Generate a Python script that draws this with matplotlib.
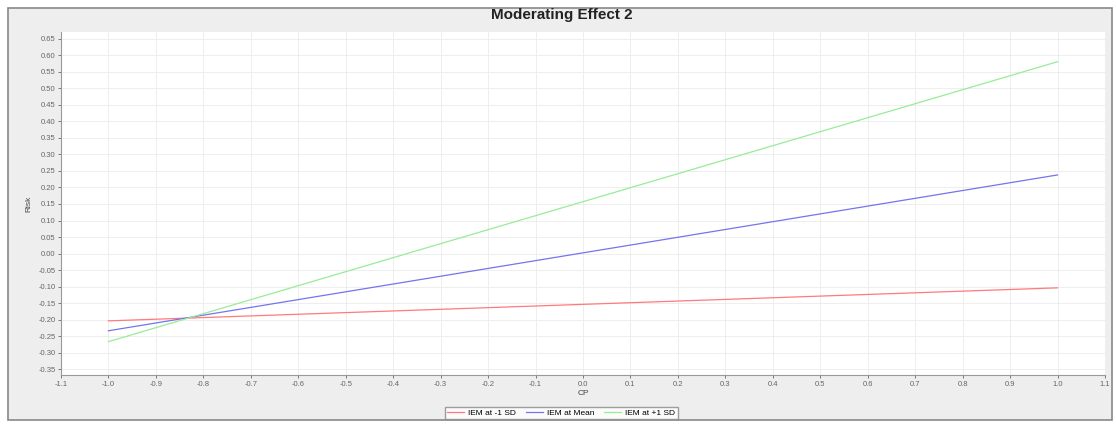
import matplotlib.pyplot as plt
from matplotlib.patches import Rectangle
import numpy as np

# values
cp = [-1.0, 1.0]
risk_low = [-0.204, -0.104]    # IEM at -1 SD
risk_mean = [-0.234, 0.238]    # IEM at Mean
risk_high = [-0.267, 0.581]    # IEM at +1 SD

series_labels = ["IEM at -1 SD", "IEM at Mean", "IEM at +1 SD"]
colors = ["#ff7a7a", "#7474ee", "#98ec98"]

x_ticks = np.round(np.arange(-1.1, 1.11, 0.1), 1) + 0.0
y_ticks = np.round(np.arange(-0.35, 0.651, 0.05), 2) + 0.0

plt.rcParams["font.family"] = ["Liberation Sans", "DejaVu Sans"]

fig = plt.figure(figsize=(11.16, 4.25), dpi=100)
fig.patch.set_facecolor("white")

# chart panel background with border
W, H = 1116, 425
fig.patches.append(
    Rectangle((8 / W, 1 - 420 / H), 1104 / W, 412 / H, transform=fig.transFigure,
              facecolor="#eeeeee", edgecolor="#888888", linewidth=1.2, zorder=-10)
)

ax = fig.add_axes([61 / W, 1 - 375 / H, 1044 / W, 343 / H])
ax.set_zorder(1)
ax.set_facecolor("white")

for vals, lab, c in zip([risk_low, risk_mean, risk_high], series_labels, colors):
    ax.plot(cp, vals, color=c, linewidth=0.9, label=lab)

ax.set_xlim(-1.1, 1.1)
ax.set_ylim(-0.368, 0.671)
ax.set_xticks(x_ticks)
ax.set_xticklabels([f"{abs(v) if abs(v) < 1e-9 else v:.1f}" for v in x_ticks])
ax.set_yticks(y_ticks)
ax.set_yticklabels([f"{abs(v) if abs(v) < 1e-9 else v:.2f}" for v in y_ticks])
ax.tick_params(labelsize=5.5, colors="#666666", length=2, width=0.6, pad=2)
ax.grid(True, color="#ebebeb", linewidth=0.6, linestyle="-")

for side in ["top", "right"]:
    ax.spines[side].set_visible(False)
for side in ["left", "bottom"]:
    ax.spines[side].set_color("#999999")
    ax.spines[side].set_linewidth(0.8)

ax.set_xlabel("CP", fontsize=6, color="#444444", labelpad=2)
ax.set_ylabel("Risk", fontsize=6, color="#444444", labelpad=4)

fig.text(0.503, 1 - 15 / H, "Moderating Effect 2", ha="center", va="center",
         fontsize=11, fontweight="bold", color="#222222")

fig.legend(loc="center", bbox_to_anchor=(0.503, 1 - 413 / H), ncol=3,
           fontsize=6, frameon=True, fancybox=False, edgecolor="#888888",
           handlelength=2.0, columnspacing=1.2, handletextpad=0.5,
           borderpad=0.3)

fig.savefig("out.png", dpi=100)
